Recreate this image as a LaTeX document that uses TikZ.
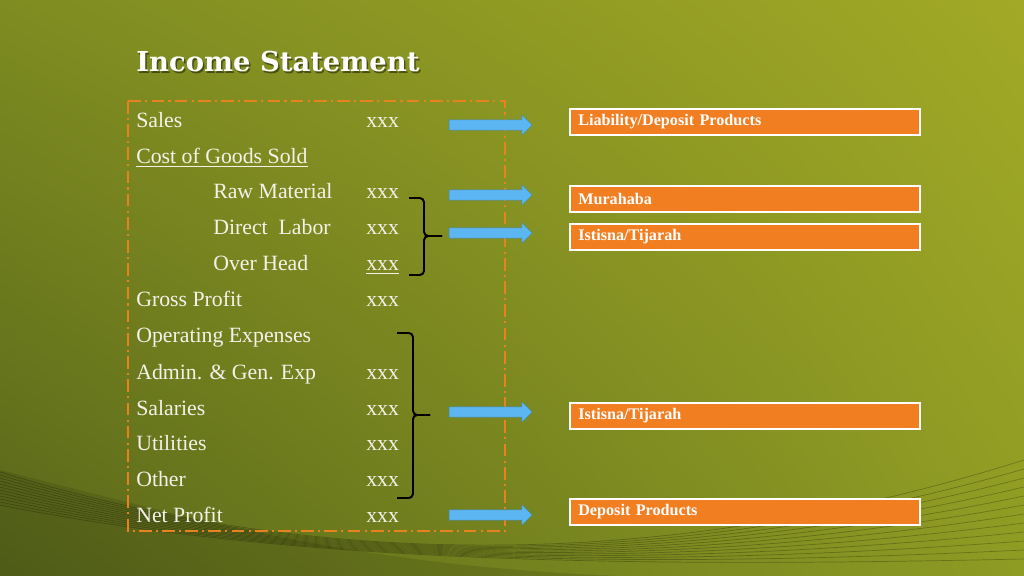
\documentclass[tikz,border=0pt]{standalone}
\usepackage{fontspec}
\setmainfont{Liberation Serif}
\newfontfamily\titlefont{DejaVu Serif}
\usetikzlibrary{shapes.arrows, shadings, positioning}

\definecolor{bgtl}{HTML}{7E8C21}
\definecolor{bgtr}{HTML}{A2A926}
\definecolor{bgbl}{HTML}{58661A}
\definecolor{bgbr}{HTML}{8E9C24}
\definecolor{dashorange}{HTML}{E8821E}
\definecolor{boxorange}{HTML}{F27E22}
\definecolor{arrowblue}{HTML}{5CB6F2}
\definecolor{textwhite}{HTML}{F4F2E8}

\tikzset{
  item/.style={anchor=base west, inner sep=0pt, text=textwhite,
    font=\fontsize{15.5}{18}\selectfont},
  product/.style={anchor=west, fill=boxorange, draw=white, line width=1.2pt,
    minimum height=18.5pt, text width=237pt, inner xsep=6pt, inner ysep=0pt,
    text=white, font=\bfseries\fontsize{11.5}{13}\selectfont},
  bluearrow/.style={single arrow, fill=arrowblue, draw=arrowblue!75!black,
    line width=0.3pt, inner xsep=0pt, inner ysep=3.5pt, minimum height=59pt,
    single arrow head extend=3.6pt, single arrow head indent=0pt},
  bracket/.style={line width=1.4pt, rounded corners=3pt},
  swoosh/.style={black, opacity=.25, line width=0.5pt}
}

\begin{document}
\begin{tikzpicture}[x=0.025cm, y=-0.025cm]
  \useasboundingbox (0,0) rectangle (1024,576);
  % background
  \shade[upper left=bgtl, upper right=bgtr, lower left=bgbl, lower right=bgbr]
    (0,0) rectangle (1024,576);
  \fill[black, opacity=.1] (0,470) .. controls (200,520) and (350,565) .. (620,576)
    -- (0,576) -- cycle;
  \foreach \i in {0,...,11}
    \draw[swoosh] (0,472+\i*3) .. controls (300,565) and (650,578-\i) .. (1024,460+\i*9);

  % title
  \node[anchor=west, inner sep=0pt, text=black, opacity=.45,
    font=\titlefont\bfseries\fontsize{19.5}{22}\selectfont] at (137.5,63.5) {Income Statement};
  \node[anchor=west, inner sep=0pt, text=white,
    font=\titlefont\bfseries\fontsize{19.5}{22}\selectfont] (title) at (136,62) {Income Statement};

  % statement
  \draw[dashorange, line width=1.5pt, dash pattern=on 9pt off 3pt on 1.5pt off 3pt]
    (128,101) rectangle (505,531);

  \node[item] (sales) at (136,128) {Sales};
  \node[item] (cogs) at (136,164) {\underline{Cost of Goods Sold}};
  \node[item] (rawmat) at (213,199) {Raw Material};
  \node[item] (labor) at (213,235) {Direct\ \ Labor};
  \node[item] (overhead) at (213,271) {Over Head};
  \node[item] (gross) at (136,307) {Gross Profit};
  \node[item] (opex) at (136,343) {Operating Expenses};
  \node[item] (admin) at (136,379) {Admin. \& Gen. Exp};
  \node[item] (salaries) at (136,415) {Salaries};
  \node[item] (utilities) at (136,450) {Utilities};
  \node[item] (other) at (136,486) {Other};
  \node[item] (net) at (136,522) {Net Profit};

  \node[item] (sales-v) at (366,128) {xxx};
  \node[item] (rawmat-v) at (366,199) {xxx};
  \node[item] (labor-v) at (366,235) {xxx};
  \node[item] (overhead-v) at (366,271) {\underline{xxx}};
  \node[item] (gross-v) at (366,307) {xxx};
  \node[item] (admin-v) at (366,379) {xxx};
  \node[item] (salaries-v) at (366,415) {xxx};
  \node[item] (utilities-v) at (366,450) {xxx};
  \node[item] (other-v) at (366,486) {xxx};
  \node[item] (net-v) at (366,522) {xxx};

  % brackets
  \draw[bracket] (409,198) -| (424,236) -- (442,236);
  \draw[bracket] (442,236) -- (424,236) |- (409,275);
  \draw[bracket] (397,333) -| (413,415) -- (430,415);
  \draw[bracket] (430,415) -- (413,415) |- (397,498);

  % arrows
  \node[bluearrow] (arr-sales) at (488,125) {};
  \node[bluearrow] (arr-murahaba) at (488,195) {};
  \node[bluearrow] (arr-istisna) at (488,233) {};
  \node[bluearrow] (arr-opex) at (488,412) {};
  \node[bluearrow] (arr-net) at (488,515) {};

  % products
  \node[product] (liability) at (569,122) {Liability/Deposit Products};
  \node[product] (murahaba) at (569,199) {Murahaba};
  \node[product] (istisna) at (569,237) {Istisna/Tijarah};
  \node[product] (istisna2) at (569,416) {Istisna/Tijarah};
  \node[product] (deposit) at (569,512) {Deposit Products};
\end{tikzpicture}
\end{document}
